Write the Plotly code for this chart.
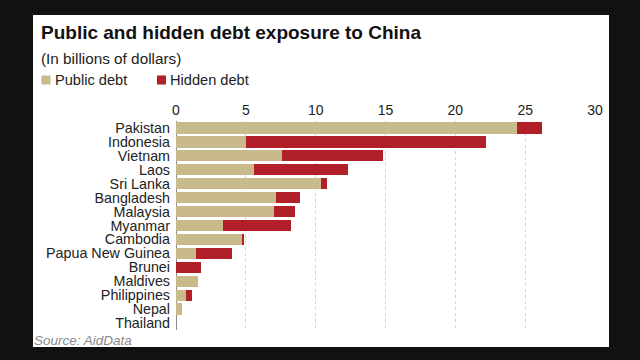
import plotly.graph_objects as go

countries = ["Pakistan", "Indonesia", "Vietnam", "Laos", "Sri Lanka", "Bangladesh",
             "Malaysia", "Myanmar", "Cambodia", "Papua New Guinea", "Brunei",
             "Maldives", "Philippines", "Nepal", "Thailand"]
public_debt = [24.4, 5.0, 7.6, 5.6, 10.4, 7.15, 7.0, 3.4, 4.7, 1.4, 0.0, 1.55, 0.7, 0.45, 0.0]
hidden_debt = [1.8, 17.2, 7.25, 6.7, 0.4, 1.75, 1.55, 4.8, 0.17, 2.6, 1.8, 0.0, 0.47, 0.0, 0.0]
x_ticks = [0, 5, 10, 15, 20, 25, 30]

TAN = "#c9ba8b"
RED = "#b11f29"
FONT = "Liberation Sans, Arial, sans-serif"

W, H = 640, 360
L, R, T, B = 176, 45, 121, 30
PW, PH = W - L - R, H - T - B


def px(x):
    return (x - L) / PW


def py(y):
    return (H - B - y) / PH


fig = go.Figure()
fig.add_trace(go.Bar(y=countries, x=public_debt, orientation="h", name="Public debt",
                     marker=dict(color=TAN, line=dict(width=0)), width=0.81))
fig.add_trace(go.Bar(y=countries, x=hidden_debt, orientation="h", name="Hidden debt",
                     marker=dict(color=RED, line=dict(width=0)), width=0.81))

shapes = [
    dict(type="rect", xref="paper", yref="paper", x0=px(33), x1=px(609), y0=py(347), y1=py(15),
         fillcolor="white", line=dict(width=0), layer="below"),
    dict(type="rect", xref="paper", yref="paper", x0=px(41.5), x1=px(50.5), y0=py(84.5), y1=py(75.5),
         fillcolor=TAN, line=dict(width=0)),
    dict(type="rect", xref="paper", yref="paper", x0=px(157), x1=px(166), y0=py(84.5), y1=py(75.5),
         fillcolor=RED, line=dict(width=0)),
]

annotations = [
    dict(text="<b>Public and hidden debt exposure to China</b>", x=px(39), y=py(32),
         font=dict(size=19, color="#111111", family=FONT)),
    dict(text="(In billions of dollars)", x=px(39), y=py(58),
         font=dict(size=15.3, color="#222222", family=FONT)),
    dict(text="Public debt", x=px(53), y=py(80),
         font=dict(size=14.6, color="#222222", family=FONT)),
    dict(text="Hidden debt", x=px(168), y=py(80),
         font=dict(size=14.6, color="#222222", family=FONT)),
    dict(text="<i>Source: AidData</i>", x=px(32), y=py(340),
         font=dict(size=13.5, color="#8a8a8a", family=FONT)),
]
for a in annotations:
    a.update(xref="paper", yref="paper", xanchor="left", yanchor="middle", showarrow=False)

fig.update_layout(
    width=W, height=H,
    margin=dict(l=L, r=R, t=T, b=B),
    paper_bgcolor="#111111", plot_bgcolor="white",
    barmode="stack", bargap=0.19, showlegend=False,
    font=dict(family=FONT, size=14, color="#222222"),
    shapes=shapes, annotations=annotations,
    xaxis=dict(side="top", range=[0, 30], tickvals=x_ticks, showgrid=True,
               gridcolor="#d2d2d2", griddash="dot", gridwidth=1,
               zeroline=True, zerolinecolor="#8c8c8c", zerolinewidth=1,
               ticks="", ticklabelstandoff=2, tickfont=dict(size=14, color="#222222"),
               showline=False, fixedrange=True),
    yaxis=dict(autorange="reversed", ticks="", ticklabelstandoff=5,
               tickmode="array", tickvals=countries, ticktext=countries,
               tickfont=dict(size=14.3, color="#222222"), showgrid=False, fixedrange=True),
)

fig.write_html("out.html")
